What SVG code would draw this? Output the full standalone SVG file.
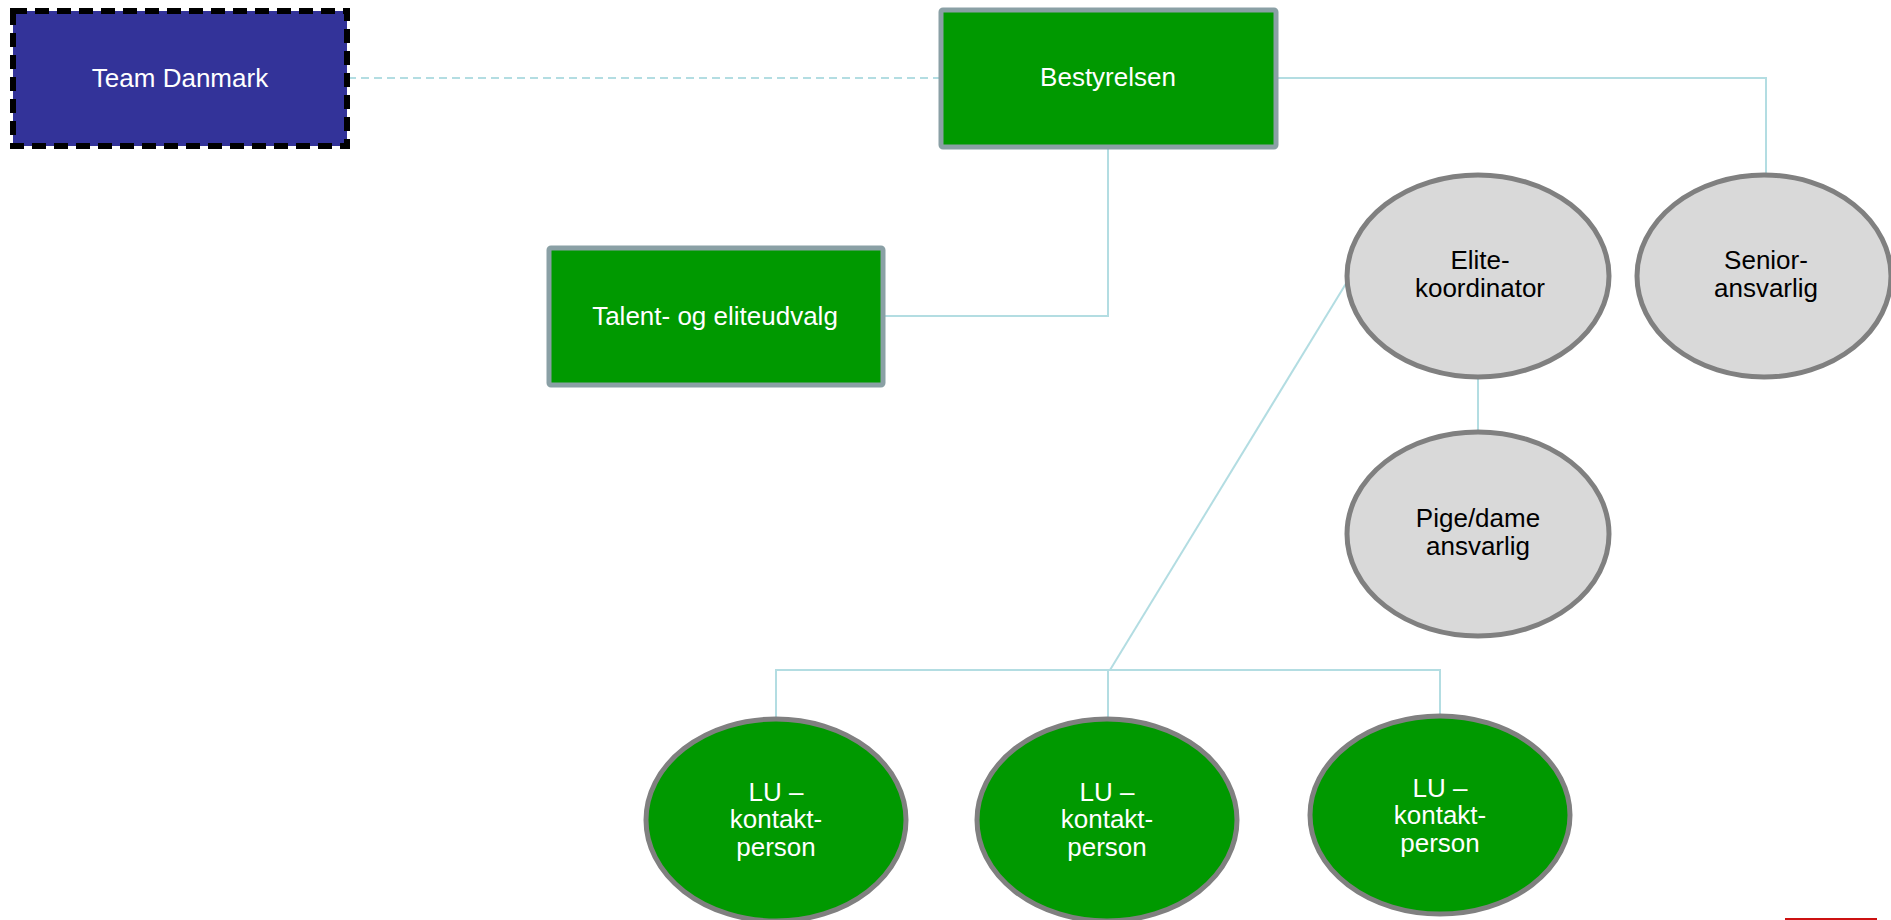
<svg xmlns="http://www.w3.org/2000/svg" width="1891" height="920" viewBox="0 0 1891 920">
<style>
  .lbl { font-family: "Liberation Sans", Arial, sans-serif; font-size: 26px; text-anchor: middle; }
  .w { fill: #ffffff; }
  .k { fill: #000000; }
  .box { fill: #009900; stroke: #8aa0a5; stroke-width: 5; }
  .ell-g { fill: #d9d9d9; stroke: #808080; stroke-width: 5; }
  .ell-v { fill: #009900; stroke: #808080; stroke-width: 5; }
  .con { fill: none; stroke: #b3dde2; stroke-width: 2; }
</style>
<rect width="1891" height="920" fill="#ffffff"/>
<g id="connectors">
  <line class="con" x1="348" y1="78" x2="941" y2="78" stroke-dasharray="8 5"/>
  <polyline class="con" points="1276,78 1766,78 1766,176"/>
  <polyline class="con" points="1108,147 1108,316 883,316"/>
  <line class="con" x1="1478" y1="377" x2="1478" y2="432"/>
  <polyline class="con" points="1350,277 1110,670"/>
  <polyline class="con" points="776,719 776,670 1440,670 1440,716"/>
  <line class="con" x1="1108" y1="670" x2="1108" y2="719"/>
</g>
<g id="team-danmark">
  <rect x="13" y="11" width="334" height="135" fill="#333399" stroke="#000000" stroke-width="6" stroke-dasharray="14 8"/>
  <text class="lbl w" x="180" y="87">Team Danmark</text>
</g>
<g id="bestyrelsen">
  <rect class="box" x="941" y="10" width="335" height="137" rx="2"/>
  <text class="lbl w" x="1108" y="86">Bestyrelsen</text>
</g>
<g id="talent-eliteudvalg">
  <rect class="box" x="549" y="248" width="334" height="137" rx="2"/>
  <text class="lbl w" x="715" y="325">Talent- og eliteudvalg</text>
</g>
<g id="elitekoordinator">
  <ellipse class="ell-g" cx="1478" cy="276" rx="131" ry="101"/>
  <text class="lbl k" x="1480" y="269">Elite-</text>
  <text class="lbl k" x="1480" y="297">koordinator</text>
</g>
<g id="senioransvarlig">
  <ellipse class="ell-g" cx="1764" cy="276" rx="127" ry="101"/>
  <text class="lbl k" x="1766" y="269">Senior-</text>
  <text class="lbl k" x="1766" y="297">ansvarlig</text>
</g>
<g id="pigedameansvarlig">
  <ellipse class="ell-g" cx="1478" cy="534" rx="131" ry="102"/>
  <text class="lbl k" x="1478" y="527">Pige/dame</text>
  <text class="lbl k" x="1478" y="555">ansvarlig</text>
</g>
<g id="lu-1">
  <ellipse class="ell-v" cx="776" cy="820" rx="130" ry="101"/>
  <text class="lbl w" x="776" y="801">LU –</text>
  <text class="lbl w" x="776" y="828">kontakt-</text>
  <text class="lbl w" x="776" y="856">person</text>
</g>
<g id="lu-2">
  <ellipse class="ell-v" cx="1107" cy="820" rx="130" ry="101"/>
  <text class="lbl w" x="1107" y="801">LU –</text>
  <text class="lbl w" x="1107" y="828">kontakt-</text>
  <text class="lbl w" x="1107" y="856">person</text>
</g>
<g id="lu-3">
  <ellipse class="ell-v" cx="1440" cy="815" rx="130" ry="99"/>
  <text class="lbl w" x="1440" y="797">LU –</text>
  <text class="lbl w" x="1440" y="824">kontakt-</text>
  <text class="lbl w" x="1440" y="852">person</text>
</g>
<line x1="1785" y1="919" x2="1877" y2="919" stroke="#cc1111" stroke-width="2"/>
</svg>
